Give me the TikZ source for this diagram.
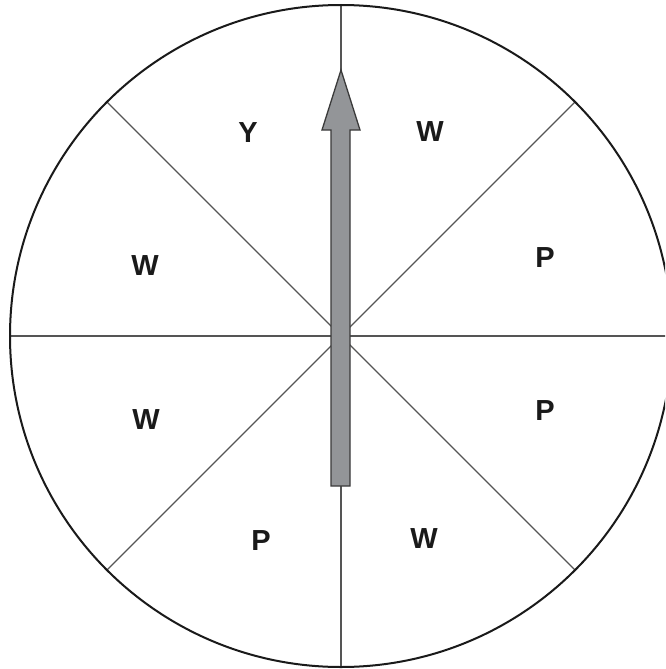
\documentclass[tikz,border=0pt]{standalone}
\usepackage{fontspec}
\setmainfont{Liberation Sans}
\usetikzlibrary{calc}
\definecolor{Rim}{HTML}{1A1A1A}
\definecolor{Spoke}{HTML}{555555}
\definecolor{Pointer}{HTML}{939598}
\definecolor{PointerEdge}{HTML}{3A3A3A}

\begin{document}
\begin{tikzpicture}[x=1pt,y=-1pt,
  slice/.style={text=Rim, font=\bfseries\fontsize{29}{34}\selectfont, inner sep=0pt}]
\useasboundingbox (0,0) rectangle (665,669);
\clip (0,0) rectangle (665,669);
\fill[white] (0,0) rectangle (665,669);
\coordinate (hub) at (341,336);
% spokes of the spinner
\draw[Spoke, line width=1.4pt] ($(hub)+(0:331)$) -- ($(hub)+(180:331)$);
\draw[Spoke, line width=1.4pt] ($(hub)+(45:331)$) -- ($(hub)+(225:331)$);
\draw[Spoke, line width=1.4pt] ($(hub)+(90:331)$) -- ($(hub)+(270:331)$);
\draw[Spoke, line width=1.4pt] ($(hub)+(135:331)$) -- ($(hub)+(315:331)$);
\draw[Rim, line width=2pt] (hub) circle[radius=331];
% sector letters
\node[slice] (y1) at (248,133) {Y};
\node[slice] (w1) at (430,132) {W};
\node[slice] (p1) at (545,258) {P};
\node[slice] (p2) at (545,411) {P};
\node[slice] (w2) at (424,539) {W};
\node[slice] (p3) at (261,541) {P};
\node[slice] (w3) at (146,420) {W};
\node[slice] (w4) at (145,266) {W};
% pointer
\draw[PointerEdge, fill=Pointer, line width=1.3pt, line join=miter]
  (331,486) -- (331,130) -- (322,130) -- (341,70) -- (360,130) -- (350,130) -- (350,486) -- cycle;
\end{tikzpicture}
\end{document}
